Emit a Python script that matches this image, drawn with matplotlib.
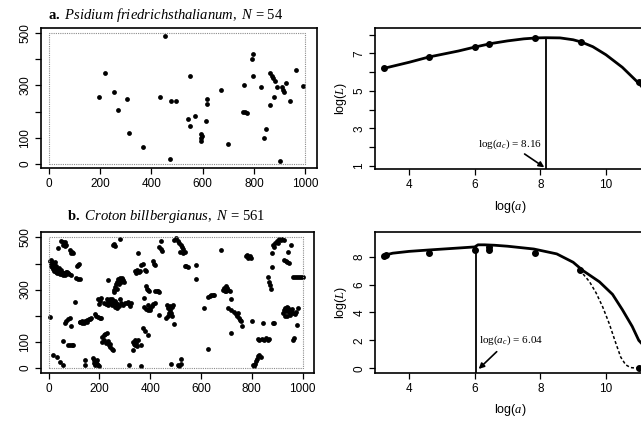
import matplotlib
matplotlib.use("Agg")
import matplotlib.pyplot as plt

plt.rcParams['font.family'] = ['Liberation Sans', 'DejaVu Sans']
plt.rcParams['mathtext.fontset'] = 'custom'
plt.rcParams['mathtext.rm'] = 'Liberation Serif'
plt.rcParams['mathtext.it'] = 'Liberation Serif:italic'
plt.rcParams['mathtext.bf'] = 'Liberation Serif:bold'

# panel a: Psidium friedrichsthalianum, stem map (x, y in m)
psidium_pts = [
    (451, 487), (221, 348), (194, 256), (255, 275), (305, 249), (271, 204),
    (314, 119), (369, 63), (433, 256), (475, 240), (495, 240), (473, 19),
    (549, 334), (617, 249), (617, 230), (670, 283), (543, 172), (569, 183),
    (552, 143), (614, 162), (595, 116), (597, 107), (595, 98), (593, 88),
    (697, 76), (758, 200), (765, 197), (772, 194), (760, 301), (796, 420),
    (793, 401), (796, 334), (826, 294), (861, 224), (878, 254), (847, 133),
    (840, 100), (899, 11), (863, 348), (869, 337), (874, 327), (880, 316),
    (888, 294), (907, 294), (911, 282), (917, 273), (923, 310), (940, 240),
    (962, 359), (989, 296),
]

# panel b: Croton billbergianus, stem map
croton_pts = [
    (50, 488), (56, 482), (62, 476), (58, 470), (66, 466), (70, 472), (64, 484),
    (37, 459), (83, 452), (90, 446), (96, 440), (88, 440),
    (253, 470), (258, 476), (263, 466), (279, 495),
    (5, 410), (8, 400), (10, 392), (14, 385), (18, 378), (22, 372), (28, 368),
    (34, 365), (40, 362), (46, 360), (52, 358), (58, 356), (64, 356), (70, 360),
    (76, 362), (82, 358), (88, 356), (12, 405), (16, 396), (20, 388), (26, 382),
    (32, 378), (38, 372), (44, 368), (50, 366), (56, 364), (62, 362), (68, 366),
    (74, 368), (8, 414), (20, 398), (30, 390), (40, 382), (48, 376), (24, 404),
    (115, 395), (112, 390), (118, 400), (109, 345), (115, 340), (122, 339),
    (233, 335),
    (258, 300), (262, 310), (266, 320), (270, 328), (276, 334), (282, 338),
    (288, 340), (294, 336), (298, 330), (286, 330), (276, 322), (268, 302),
    (256, 292), (290, 344), (280, 344), (272, 340),
    (102, 254),
    (198, 245), (202, 255), (196, 262), (205, 268), (218, 250), (225, 245),
    (232, 255), (240, 248), (248, 242), (255, 250), (262, 258), (270, 245),
    (278, 238), (285, 250), (292, 242), (300, 248), (260, 232), (270, 228),
    (282, 262), (250, 265), (240, 262), (235, 240), (228, 262), (310, 248),
    (264, 248), (252, 256),
    (7, 193), (63, 171), (70, 180), (76, 186), (83, 190), (89, 159),
    (125, 176), (132, 178), (138, 176), (145, 180), (152, 182), (158, 186),
    (164, 188), (140, 170), (130, 172), (150, 175), (168, 190), (122, 174),
    (181, 205), (188, 200), (195, 196), (202, 192), (207, 190),
    (210, 118), (216, 124), (222, 128), (228, 132), (218, 108), (212, 98),
    (224, 96), (232, 102), (236, 88), (242, 80), (248, 74), (253, 70), (240, 92),
    (56, 101), (76, 88), (84, 88), (92, 88), (96, 88),
    (17, 50), (33, 43), (43, 24), (56, 12), (142, 31), (142, 12),
    (174, 37), (180, 30), (186, 24), (190, 16), (196, 10), (200, 6), (184, 10),
    (178, 20), (192, 28), (318, 9),
    (443, 485), (495, 490), (500, 497), (508, 486), (515, 478), (520, 470),
    (525, 462), (530, 455), (535, 445), (518, 446), (528, 440),
    (436, 465), (442, 456), (448, 448), (351, 440), (679, 453),
    (364, 395), (371, 398),
    (338, 370), (342, 364), (348, 376), (354, 366), (358, 372), (384, 370),
    (380, 376), (410, 408), (414, 400), (417, 395),
    (535, 389), (542, 392), (548, 388), (580, 395), (580, 340),
    (384, 312), (388, 304), (392, 298), (397, 293), (417, 293), (425, 296),
    (432, 293), (436, 292),
    (312, 254), (316, 244), (322, 236), (325, 248), (377, 267),
    (377, 232), (384, 226), (392, 222), (398, 230), (405, 238), (412, 244),
    (417, 248), (390, 242), (400, 222), (436, 203),
    (463, 190), (468, 200), (472, 212), (478, 222), (484, 232), (489, 242),
    (476, 236), (470, 228), (482, 210), (486, 198), (466, 240), (493, 169),
    (371, 152), (380, 140), (390, 127),
    (332, 100), (336, 92), (340, 86), (346, 82), (351, 107), (338, 106),
    (344, 96), (364, 86), (332, 69),
    (626, 270), (634, 274), (640, 278), (646, 280), (652, 280), (613, 229),
    (629, 73), (522, 35), (510, 12), (515, 8), (520, 14), (480, 15),
    (362, 8),
    (777, 428), (782, 434), (788, 424), (794, 430), (797, 422), (786, 421),
    (882, 472), (890, 480), (898, 488), (906, 494), (914, 490), (920, 494),
    (928, 490), (902, 478), (886, 465), (954, 472), (879, 440), (941, 444),
    (928, 414), (934, 408), (940, 404), (946, 401), (879, 385),
    (862, 350), (868, 330), (872, 318), (875, 303),
    (961, 350), (968, 350), (976, 350), (984, 350), (992, 350), (1000, 350),
    (686, 300), (692, 306), (698, 312), (704, 308), (708, 300), (712, 294),
    (700, 296), (694, 294), (718, 263), (705, 229), (718, 222),
    (731, 214), (736, 206), (742, 198), (748, 190), (754, 184), (758, 178),
    (744, 210), (760, 162), (801, 178), (843, 171), (885, 171), (889, 171),
    (921, 210), (926, 220), (932, 228), (938, 232), (944, 228), (950, 222),
    (956, 216), (962, 212), (968, 208), (974, 214), (930, 200), (940, 198),
    (952, 204), (960, 226), (946, 214), (936, 216), (980, 229), (978, 165),
    (716, 133), (823, 110), (830, 107), (838, 112), (846, 108), (854, 114),
    (862, 108), (869, 112), (967, 114), (962, 108),
    (810, 5), (814, 15), (818, 25), (822, 35), (826, 45), (830, 50), (836, 40),
    (806, 12),
]

# log(L) against log(a), observed points and fitted curves
a_loga = [3.24, 4.6, 6.0, 6.45, 7.85, 9.25, 11.0]
a_logL = [6.2, 6.82, 7.33, 7.5, 7.8, 7.6, 5.45]
a_fit_x = [3.24, 4.0, 4.6, 5.5, 6.0, 6.5, 7.0, 7.5, 7.9, 8.16, 8.6, 9.0, 9.25,
           9.6, 10.0, 10.5, 11.0, 11.3]
a_fit_y = [6.2, 6.52, 6.8, 7.12, 7.33, 7.52, 7.66, 7.77, 7.82, 7.83, 7.82, 7.72,
           7.6, 7.35, 6.92, 6.25, 5.4, 4.8]
a_crit = 8.16

b_loga = [3.25, 3.3, 4.6, 6.0, 6.45, 6.45, 7.85, 9.2, 11.0]
b_logL = [8.05, 8.15, 8.29, 8.48, 8.5, 8.7, 8.24, 7.05, 0.0]
b_fit_x = [3.25, 3.5, 4.0, 4.6, 5.5, 6.0, 6.1, 6.3, 6.6, 7.0, 7.8, 8.5, 9.0,
           9.3, 9.8, 10.2, 10.5, 10.8, 11.0, 11.2]
b_fit_y = [8.1, 8.25, 8.38, 8.48, 8.62, 8.7, 8.85, 8.85, 8.82, 8.75, 8.55, 8.2,
           7.6, 7.0, 6.2, 5.3, 4.2, 3.0, 2.0, 1.5]
b_dash_x = [9.2, 9.5, 9.7, 9.9, 10.1, 10.3, 10.45, 10.6, 10.75, 11.0, 11.3]
b_dash_y = [7.05, 6.2, 5.4, 4.4, 3.2, 1.8, 0.8, 0.25, 0.05, 0.0, 0.0]
b_crit = 6.04

fig = plt.figure(figsize=(6.41, 4.21), dpi=100)


def style_axes(ax, size=8.5):
    for s in ax.spines.values():
        s.set_linewidth(1.2)
    ax.tick_params(direction='out', length=4, width=0.9, labelsize=size, pad=3)


def stem_map(rect, pts, title, ylim, title_y):
    ax = fig.add_axes(rect)
    xs = [p[0] for p in pts]
    ys = [p[1] for p in pts]
    ax.plot([0, 1000, 1000, 0, 0], [0, 0, 500, 500, 0], color='0.55', lw=0.8,
            linestyle=(0, (1, 1)))
    ax.scatter(xs, ys, s=12, color='black', linewidths=0)
    ax.set_xlim(-30, 1045)
    ax.set_ylim(*ylim)
    ax.set_xticks(range(0, 1001, 200))
    ax.set_yticks(range(0, 501, 100))
    ax.set_yticklabels(['0', '100', '', '300', '', '500'], rotation=90, va='center')
    style_axes(ax)
    fig.text(rect[0] + 0.195, title_y, title, fontsize=10.5, ha='center',
             va='baseline', family='Liberation Serif')
    return ax


stem_map([0.064, 0.601, 0.4306, 0.3325], psidium_pts,
         r'$\mathbf{a.}$ $\mathit{Psidium\ friedrichsthalianum,\ N}$ = 54',
         (-15, 518), 0.955)
stem_map([0.064, 0.114, 0.426, 0.3356], croton_pts,
         r'$\mathbf{b.}$ $\mathit{Croton\ billbergianus,\ N}$ = 561',
         (-20, 522), 0.478)


def curve_panel(rect, ylim, yticks, ylabels, loga, logL, fx, fy, crit, crit_y,
                label, txt_xy, arrow_from, arrow_to, dash=None):
    ax = fig.add_axes(rect)
    ax.plot(fx, fy, color='black', lw=2.0)
    if dash is not None:
        ax.plot(dash[0], dash[1], color='black', lw=1.1, linestyle=(0, (2, 1.5)))
    ax.plot(loga, logL, 'o', color='black', markersize=4)
    ax.plot([crit, crit], [ylim[0], crit_y], color='black', lw=1.3)
    ax.set_xlim(2.96, 11.4)
    ax.set_ylim(*ylim)
    ax.set_xticks([4, 6, 8, 10])
    ax.set_yticks(yticks)
    ax.set_yticklabels(ylabels, rotation=90, va='center')
    ax.set_ylabel(r'log($\mathit{L}$)', fontsize=9, labelpad=3)
    style_axes(ax)
    ax.text(txt_xy[0], txt_xy[1], label, fontsize=8, ha='left', va='baseline',
            family='Liberation Serif')
    ax.annotate('', xy=arrow_to, xytext=arrow_from,
                arrowprops=dict(arrowstyle='-|>', color='black', lw=1.2,
                                mutation_scale=8, shrinkA=0, shrinkB=0))
    return ax


curve_panel([0.585, 0.5986, 0.432, 0.335], (0.83, 8.35), range(1, 9),
            ['1', '', '3', '', '5', '', '7', ''], a_loga, a_logL, a_fit_x,
            a_fit_y, a_crit, 7.83, r'log($a_c$) = 8.16', (6.09, 2.0),
            (7.52, 1.63), (8.12, 0.92))
curve_panel([0.585, 0.1133, 0.432, 0.335], (-0.36, 9.75), range(0, 9, 2),
            ['0', '2', '4', '6', '8'], b_loga, b_logL, b_fit_x, b_fit_y,
            b_crit, 8.7, r'log($a_c$) = 6.04', (6.12, 1.8), (6.67, 1.19),
            (6.12, -0.05), dash=(b_dash_x, b_dash_y))

fig.text(510 / 641, 1 - 207 / 421, r'log($\mathit{a}$)', fontsize=9,
         ha='center', va='center')
fig.text(510 / 641, 1 - 410 / 421, r'log($\mathit{a}$)', fontsize=9,
         ha='center', va='center')

fig.savefig('out.png', dpi=100)
